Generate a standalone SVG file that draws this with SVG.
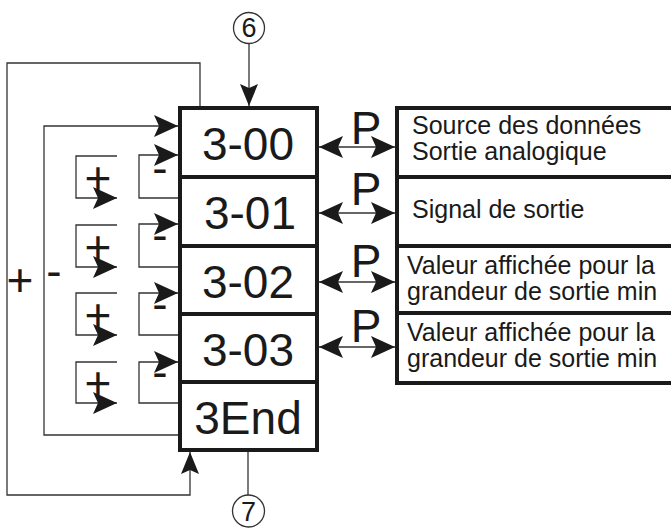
<svg xmlns="http://www.w3.org/2000/svg" width="671" height="529" viewBox="0 0 671 529">
<style>
text{font-family:"Liberation Sans",Arial,sans-serif;fill:#1a1a1a}
.box{fill:#fff;stroke:#1a1a1a;stroke-width:4}
.code{font-size:46px;text-anchor:middle}
.info{font-size:25px}
.ln{fill:none;stroke:#333;stroke-width:1.3}
.circ{fill:#fff;stroke:#333;stroke-width:1.3}
.num{font-size:27px;text-anchor:middle}
.sym{font-size:46px;text-anchor:middle}
.p{font-size:46px;text-anchor:middle}
</style>
<defs>
<marker id="ah" viewBox="-25 -12 26 24" refX="0" refY="0" markerWidth="26" markerHeight="24" markerUnits="userSpaceOnUse" orient="auto-start-reverse">
<path d="M0,0 L-24,-11 L-19,0 L-24,11 Z" fill="#1a1a1a"/>
</marker>
<marker id="ahs" viewBox="-23 -10 24 20" refX="0" refY="0" markerWidth="24" markerHeight="20" markerUnits="userSpaceOnUse" orient="auto-start-reverse">
<path d="M0,0 L-22,-9 L-18,0 L-22,9 Z" fill="#1a1a1a"/>
</marker>
</defs>
<g id="connectors">
<line class="ln" x1="249" y1="44" x2="249" y2="106" marker-end="url(#ahs)"/>
<line class="ln" x1="248" y1="452" x2="248" y2="495"/>
<polyline class="ln" points="200,106 200,63 7,63 7,495 190,495 190,452" marker-end="url(#ahs)"/>
<polyline class="ln" points="180,435 44,435 44,126 178,126" marker-end="url(#ah)"/>
<polyline class="ln" points="180,198 139,198 139,155 178,155" marker-end="url(#ah)"/>
<polyline class="ln" points="180,267 139,267 139,224 178,224" marker-end="url(#ah)"/>
<polyline class="ln" points="180,335 139,335 139,293 178,293" marker-end="url(#ah)"/>
<polyline class="ln" points="180,403 139,403 139,362 178,362" marker-end="url(#ah)"/>
<polyline class="ln" points="117,156 76,156 76,198 117,198" marker-end="url(#ah)"/>
<polyline class="ln" points="117,225 76,225 76,267 117,267" marker-end="url(#ah)"/>
<polyline class="ln" points="117,293 76,293 76,335 117,335" marker-end="url(#ah)"/>
<polyline class="ln" points="117,362 76,362 76,403 117,403" marker-end="url(#ah)"/>
<line class="ln" x1="319" y1="147" x2="395" y2="147" marker-start="url(#ah)" marker-end="url(#ah)"/>
<line class="ln" x1="319" y1="213" x2="395" y2="213" marker-start="url(#ah)" marker-end="url(#ah)"/>
<line class="ln" x1="319" y1="282" x2="395" y2="282" marker-start="url(#ah)" marker-end="url(#ah)"/>
<line class="ln" x1="319" y1="347" x2="395" y2="347" marker-start="url(#ah)" marker-end="url(#ah)"/>
<text class="sym" x="20" y="296">+</text>
<text class="sym" x="54" y="287">-</text>
<text class="sym" x="98" y="194">+</text>
<text class="sym" x="98" y="263">+</text>
<text class="sym" x="98" y="331">+</text>
<text class="sym" x="98" y="399">+</text>
<text class="sym" x="160" y="184">-</text>
<text class="sym" x="160" y="251">-</text>
<text class="sym" x="160" y="320">-</text>
<text class="sym" x="160" y="388">-</text>
<text class="p" x="366" y="144">P</text>
<text class="p" x="366" y="205">P</text>
<text class="p" x="366" y="277">P</text>
<text class="p" x="366" y="342">P</text>
</g>
<g id="c6"><circle class="circ" cx="249" cy="28" r="15.5"/><text class="num" x="249" y="37">6</text></g>
<g id="c7"><circle class="circ" cx="248.5" cy="511" r="16"/><text class="num" x="248.5" y="521">7</text></g>
<g id="n300"><rect class="box" x="180" y="108" width="137" height="69"/><text class="code" x="248" y="160">3-00</text></g>
<g id="n301"><rect class="box" x="180" y="177" width="137" height="69"/><text class="code" x="250" y="229">3-01</text></g>
<g id="n302"><rect class="box" x="180" y="246" width="137" height="68"/><text class="code" x="248" y="298">3-02</text></g>
<g id="n303"><rect class="box" x="180" y="314" width="137" height="68"/><text class="code" x="248" y="366">3-03</text></g>
<g id="n3end"><rect class="box" x="180" y="382" width="137" height="68"/><text class="code" x="248" y="434">3End</text></g>
<g id="i300"><rect class="box" x="397" y="108" width="300" height="69"/><text class="info" x="412" y="134">Source des données</text><text class="info" x="412" y="160">Sortie analogique</text></g>
<g id="i301"><rect class="box" x="397" y="177" width="300" height="69"/><text class="info" x="412" y="218">Signal de sortie</text></g>
<g id="i302"><rect class="box" x="397" y="246" width="300" height="67"/><text class="info" x="407" y="274">Valeur affichée pour la</text><text class="info" x="407" y="300">grandeur de sortie min</text></g>
<g id="i303"><rect class="box" x="397" y="313" width="300" height="70"/><text class="info" x="407" y="341">Valeur affichée pour la</text><text class="info" x="407" y="367">grandeur de sortie min</text></g>
</svg>
